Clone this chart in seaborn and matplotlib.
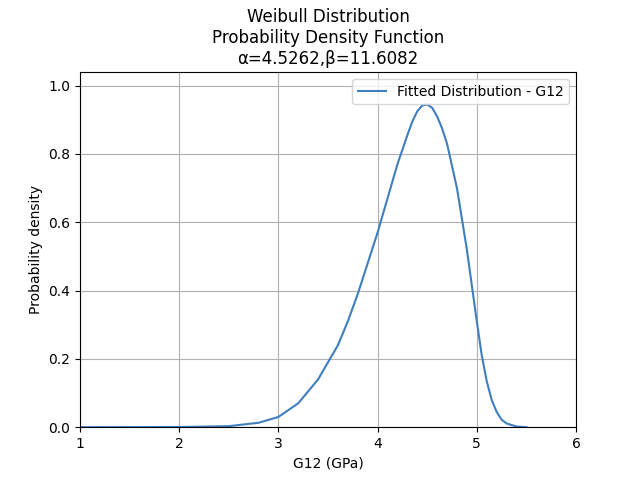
import matplotlib
matplotlib.use("Agg")
import matplotlib.pyplot as plt
import seaborn as sns
import pandas as pd

# values
g12 = [1.0, 2.0, 2.5, 2.8, 3.0, 3.2, 3.4, 3.6, 3.7, 3.8, 3.9, 4.0, 4.1, 4.2, 4.3,
       4.35, 4.4, 4.45, 4.5, 4.55, 4.6, 4.65, 4.7, 4.8, 4.9, 5.0, 5.05, 5.1, 5.15,
       5.2, 5.25, 5.3, 5.4, 5.5]
density = [0.0, 0.0005, 0.003, 0.013, 0.03, 0.07, 0.14, 0.24, 0.31, 0.39, 0.48, 0.57,
           0.67, 0.77, 0.855, 0.895, 0.925, 0.942, 0.945, 0.935, 0.91, 0.875, 0.83,
           0.70, 0.52, 0.31, 0.21, 0.135, 0.08, 0.045, 0.022, 0.011, 0.002, 0.0]

df = pd.DataFrame({"G12 (GPa)": g12, "Probability density": density})

fig, ax = plt.subplots(figsize=(6.4, 4.8), dpi=100)
fig.subplots_adjust(left=0.125, right=0.9, bottom=0.11, top=0.85)
sns.lineplot(data=df, x="G12 (GPa)", y="Probability density", ax=ax,
             color="#3f7fbf", label="Fitted Distribution - G12")
ax.set_xlim(1, 6)
ax.set_ylim(0, 1.04)
ax.grid(True)
ax.set_title("Weibull Distribution\nProbability Density Function\nα=4.5262,β=11.6082")
ax.legend(loc="upper right")
fig.savefig("out.png")
